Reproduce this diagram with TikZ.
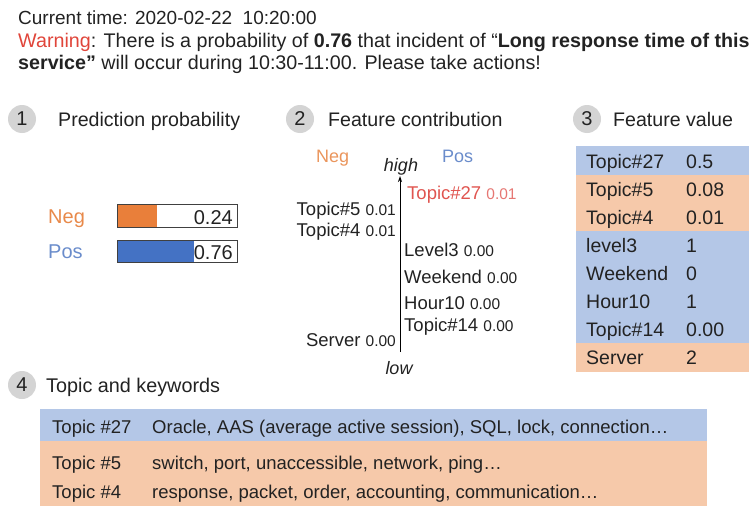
\documentclass[tikz,border=0pt]{standalone}
\usepackage{fontspec}
\setmainfont{Liberation Sans}
\usetikzlibrary{arrows.meta}
\definecolor{warnred}{HTML}{E0453A}
\definecolor{negtxt}{HTML}{E8894A}
\definecolor{postxt}{HTML}{6A8CCB}
\definecolor{negbar}{HTML}{E97F3A}
\definecolor{posbar}{HTML}{4472C4}
\definecolor{tblue}{HTML}{B4C7E7}
\definecolor{torange}{HTML}{F6C9AA}
\definecolor{circgray}{HTML}{D4D4D4}
\definecolor{txt}{HTML}{222222}
\definecolor{toptxt}{HTML}{E05550}
\begin{document}
\begin{tikzpicture}[x=1pt,y=-1pt,
  every node/.style={inner sep=0pt,text=txt},
  lbl/.style={anchor=base west,font=\fontsize{18.5}{20}\selectfont},
  lblr/.style={anchor=base east,font=\fontsize{18.5}{20}\selectfont},
  head/.style={anchor=base west,font=\fontsize{19.7}{22}\selectfont},
  sechead/.style={anchor=base west,font=\fontsize{19.6}{22}\selectfont},
  numcirc/.style={circle,fill=circgray,minimum size=28pt,font=\fontsize{20}{22}\selectfont},
  bar/.style={draw=black!75,line width=0.8pt},
  fv/.style={anchor=base west,font=\fontsize{19.5}{21}\selectfont},
  kw/.style={anchor=base west,font=\fontsize{18.5}{20}\selectfont},
]
\useasboundingbox (0,0) rectangle (749,506);
% header
\node[head,font=\fontsize{19}{22}\selectfont] (h1) at (18,24) {Current time: 2020-02-22\ \ 10:20:00};
\node[head] (h2) at (18,47) {\textcolor{warnred}{Warning}: There is a probability of \textbf{0.76} that incident of ``\textbf{Long response\ time of this}};
\node[head] (h3) at (18,69) {\textbf{service''} will occur during 10:30-11:00. Please take actions!};

% section headings
\node[numcirc] (c1) at (22,119) {1};
\node[sechead] (s1) at (58,126) {Prediction probability};
\node[numcirc] (c2) at (300,119) {2};
\node[sechead] (s2) at (328,126) {Feature contribution};
\node[numcirc] (c3) at (587,119) {3};
\node[sechead] (s3) at (613,126) {Feature value};
\node[numcirc] (c4) at (22,385) {4};
\node[sechead,font=\fontsize{19.8}{22}\selectfont] (s4) at (46,392) {Topic and keywords};

% section 1 bars
\node[anchor=base west,font=\fontsize{20}{22}\selectfont,text=negtxt] (negl) at (48,223) {Neg};
\node[anchor=base west,font=\fontsize{20}{22}\selectfont,text=postxt] (posl) at (48,258) {Pos};
\fill[negbar] (117,204) rectangle (157,227);
\draw[bar] (117,204) rectangle (237,227);
\node[anchor=base east,font=\fontsize{20}{22}\selectfont] (v24) at (233,224) {0.24};
\fill[posbar] (117,240) rectangle (194,262);
\draw[bar] (117,240) rectangle (237,262);
\node[anchor=base east,font=\fontsize{20}{22}\selectfont] (v76) at (233,259) {0.76};

% section 2 feature contribution
\node[anchor=base west,font=\fontsize{18}{20}\selectfont,text=negtxt!90] (neg2) at (316,162) {Neg};
\node[anchor=base west,font=\fontsize{18}{20}\selectfont,text=postxt] (pos2) at (442,162) {Pos};
\node[anchor=base,font=\fontsize{18}{20}\itshape] (high) at (401,171) {high};
\node[anchor=base,font=\fontsize{18}{20}\itshape] (low) at (399,374) {low};
\coordinate (axtop) at (400,176);
\coordinate (axbot) at (400,352);
\draw[line width=0.9pt,-{Stealth[length=6pt,width=4pt]}] (axbot) -- (axtop);
\node[lbl] (f27) at (407,199) {\textcolor{toptxt}{Topic\#27} {\fontsize{15.5}{17}\selectfont\textcolor{toptxt!80}{0.01}}};
\node[lblr] (f5) at (396,215) {Topic\#5 {\fontsize{15.5}{17}\selectfont 0.01}};
\node[lblr] (f4) at (396,236) {Topic\#4 {\fontsize{15.5}{17}\selectfont 0.01}};
\node[lbl] (fl3) at (404,256) {Level3 {\fontsize{15.5}{17}\selectfont 0.00}};
\node[lbl] (fwe) at (404,283) {Weekend {\fontsize{15.5}{17}\selectfont 0.00}};
\node[lbl] (fh10) at (404,309) {Hour10 {\fontsize{15.5}{17}\selectfont 0.00}};
\node[lbl] (f14) at (404,331) {Topic\#14 {\fontsize{15.5}{17}\selectfont 0.00}};
\node[lblr] (fsv) at (396,346) {Server {\fontsize{15.5}{17}\selectfont 0.00}};

% section 3 feature value table
\fill[tblue] (576,146) rectangle (749,175);
\fill[torange] (576,175) rectangle (749,231);
\fill[tblue] (576,231) rectangle (749,343);
\fill[torange] (576,343) rectangle (749,372);
\foreach \n/\v/\y [count=\i] in {Topic\#27/0.5/168,Topic\#5/0.08/196,Topic\#4/0.01/224,level3/1/252,Weekend/0/280,Hour10/1/308,Topic\#14/0.00/336,Server/2/364}{
  \node[fv] (tn\i) at (586,\y) {\n};
  \node[fv] (tv\i) at (686,\y) {\v};
}

% section 4 topic table
\fill[tblue] (40,409) rectangle (707,441);
\fill[torange] (40,441) rectangle (707,506);
\node[kw] (k27) at (52,433) {Topic \#27};
\node[kw] (w27) at (152,433) {Oracle, AAS (average active session), SQL, lock, connection\dots};
\node[kw] (k5) at (52,469) {Topic \#5};
\node[kw] (w5) at (152,469) {switch, port, unaccessible, network, ping\dots};
\node[kw] (k4) at (52,498) {Topic \#4};
\node[kw] (w4) at (152,498) {response, packet, order, accounting, communication\dots};
\end{tikzpicture}
\end{document}
